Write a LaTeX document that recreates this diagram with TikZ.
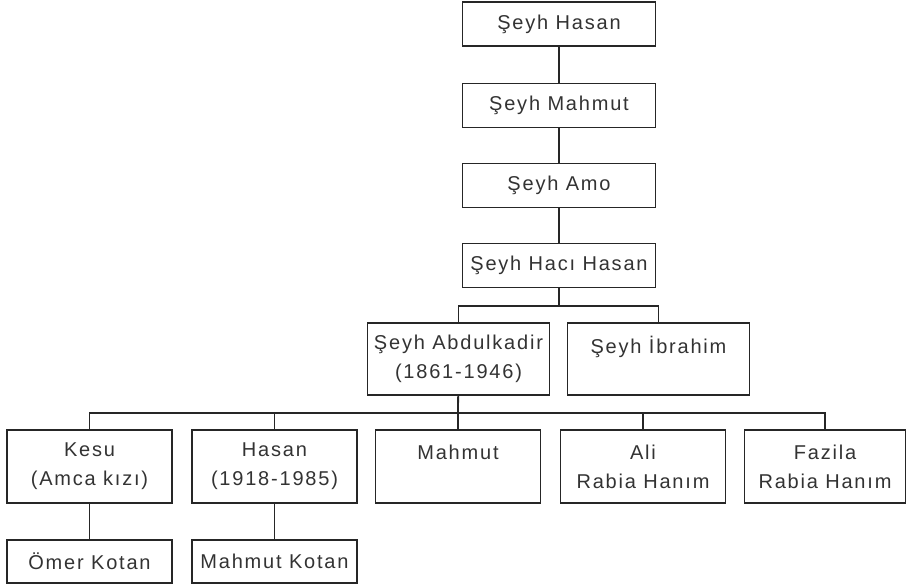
\documentclass[tikz,border=0pt]{standalone}
\usepackage{fontspec}
\setmainfont[LetterSpace=9]{Liberation Sans}
\usepackage{tikz}

\begin{document}
\begin{tikzpicture}[font=\fontsize{20}{29}\selectfont,x=1pt,y=-1pt,
  box/.style={rectangle,fill=white,draw=black!85,text=black!80,line width=1.8pt,inner sep=0pt,align=center},
  top/.style={box,minimum width=193pt,minimum height=44pt},
  mid/.style={box,minimum width=182pt,minimum height=72pt},
  kid/.style={box,minimum width=165pt,minimum height=73pt},
  leaf/.style={box,minimum width=165pt,minimum height=43pt},
  link/.style={draw=black!85,line width=1.8pt}]
\useasboundingbox (0,0) rectangle (906,587);
\node[top] (hasan) at (559,24) {Şeyh Hasan};
\node[top] (mahmut) at (559,105.5) {Şeyh Mahmut};
\node[top] (amo) at (559,185.5) {Şeyh Amo};
\node[top] (haci) at (559,265.5) {Şeyh Hacı Hasan};
\node[mid] (abdulkadir) at (458.5,359) {Şeyh Abdulkadir\\(1861-1946)};
\node[mid] (ibrahim) at (658.5,359) {Şeyh İbrahim\\\mbox{}};
\node[kid] (kesu) at (89.5,466.5) {Kesu\\(Amca kızı)};
\node[kid] (hasanb) at (274.5,466.5) {Hasan\\(1918-1985)};
\node[kid] (mahmutb) at (458,466.5) {Mahmut\\\mbox{}};
\node[kid] (ali) at (643,466.5) {Ali\\Rabia Hanım};
\node[kid,minimum width=161pt] (fazila) at (825,466.5) {Fazila\\Rabia Hanım};
\node[leaf] (omer) at (89.5,561.5) {Ömer Kotan};
\node[leaf] (kotan) at (274.5,561.5) {Mahmut Kotan};
\coordinate (fork1) at (559,306);
\coordinate (fork2) at (458,413);
\draw[link] (hasan) -- (mahmut);
\draw[link] (mahmut) -- (amo);
\draw[link] (amo) -- (haci);
\draw[link] (haci) -- (fork1);
\draw[link] (abdulkadir.north) |- (fork1) -| (ibrahim.north);
\draw[link] (abdulkadir) -- (fork2);
\draw[link] (kesu.north) |- (fork2) -| (fazila.north);
\draw[link] (hasanb.north) |- (fork2);
\draw[link] (mahmutb) -- (fork2);
\draw[link] (ali.north) |- (fork2);
\draw[link] (kesu) -- (omer);
\draw[link] (hasanb) -- (kotan);
\end{tikzpicture}
\end{document}
